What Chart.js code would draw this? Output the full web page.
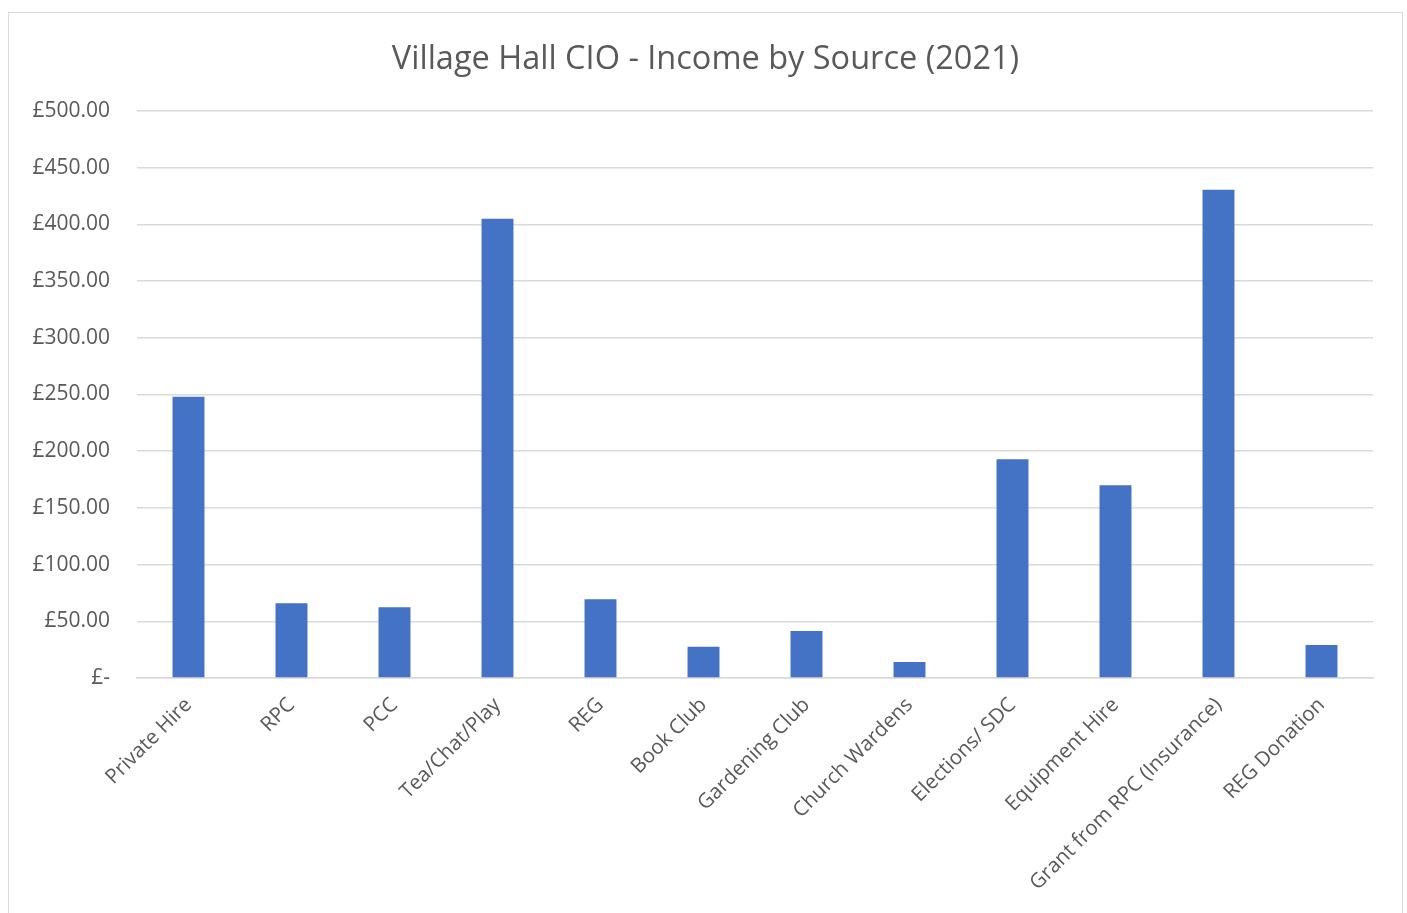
<!DOCTYPE html>
<html>
<head>
<meta charset="utf-8">
<script src="https://cdn.jsdelivr.net/npm/chart.js@4"></script>
<style>
    body { margin: 0; background: #fff; }
    #wrap {
        position: absolute;
        left: 8px;
        top: 12px;
        width: 1395px;
        height: 913px;
        border: 1px solid #d9d9d9;
        box-sizing: border-box;
    }
</style>
</head>
<body>
<div id="wrap"><canvas id="incomeChart"></canvas></div>
<script>
// Chart data
const categories = [
    'Private Hire', 'RPC', 'PCC', 'Tea/Chat/Play', 'REG', 'Book Club',
    'Gardening Club', 'Church Wardens', 'Elections/ SDC', 'Equipment Hire',
    'Grant from RPC (Insurance)', 'REG Donation'
];
const incomeValues = [248, 66, 62.5, 405, 69.5, 27.5, 41.5, 14, 193, 170, 430.5, 29];
const yMax = 500;
const yStep = 50;

const FONT = "'Open Sans', 'Liberation Sans', sans-serif";
const TEXT_GREY = '#595959';

const ctx = document.getElementById('incomeChart').getContext('2d');
new Chart(ctx, {
    type: 'bar',
    data: {
        labels: categories,
        datasets: [{
            label: 'Income',
            data: incomeValues,
            backgroundColor: '#4472c4',
            borderWidth: 0,
            categoryPercentage: 1,
            barPercentage: 0.31
        }]
    },
    options: {
        responsive: true,
        maintainAspectRatio: false,
        animation: false,
        layout: {
            padding: { top: 27, right: 0, left: 0, bottom: 0 }
        },
        plugins: {
            legend: { display: false },
            tooltip: { enabled: false },
            title: {
                display: true,
                text: 'Village Hall CIO - Income by Source (2021)',
                color: TEXT_GREY,
                font: { family: FONT, size: 32.5, weight: 'normal' },
                padding: { top: 0, bottom: 32 }
            }
        },
        scales: {
            x: {
                grid: { display: false, drawTicks: false },
                border: { color: '#d9d9d9', width: 1.5 },
                ticks: {
                    color: TEXT_GREY,
                    font: { family: FONT, size: 20.5 },
                    minRotation: 45,
                    maxRotation: 45,
                    autoSkip: false,
                    padding: 15
                },
                afterFit: function (scale) {
                    scale.height = 246;
                }
            },
            y: {
                min: 0,
                max: yMax,
                grid: { color: '#d9d9d9', lineWidth: 1.5, drawTicks: false },
                border: { display: false },
                ticks: {
                    stepSize: yStep,
                    color: TEXT_GREY,
                    font: { family: FONT, size: 21 },
                    padding: 27,
                    callback: function (value) {
                        return value === 0 ? '£-' : '£' + value.toFixed(2);
                    }
                },
                afterFit: function (scale) {
                    scale.width = 128;
                }
            },
            // blank right-hand axis, only keeps the plot clear of the right border
            yRight: {
                position: 'right',
                min: 0,
                max: yMax,
                grid: { display: false, drawTicks: false },
                border: { display: false },
                ticks: { display: false },
                afterFit: function (scale) {
                    scale.width = 29;
                }
            }
        }
    }
});
</script>
</body>
</html>
